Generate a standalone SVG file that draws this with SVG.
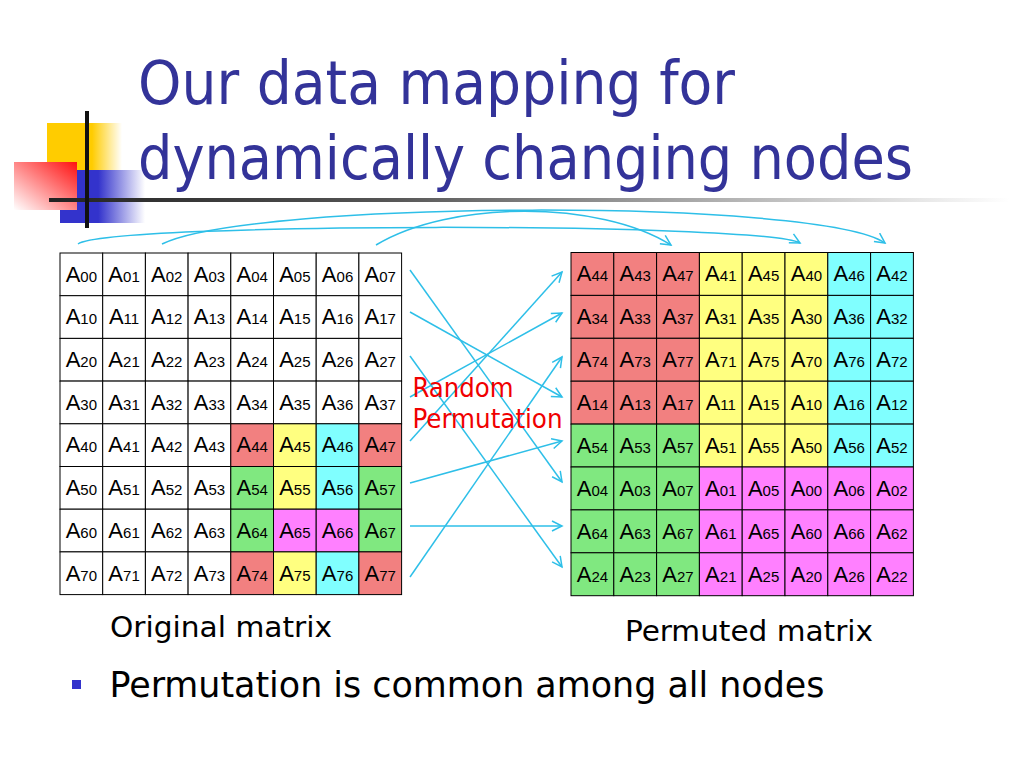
<svg xmlns="http://www.w3.org/2000/svg" width="1024" height="768" viewBox="0 0 1024 768">
<defs>
<style>
.c rect{stroke:#000;stroke-width:1}
.c text{font-family:"Liberation Sans",Arial,sans-serif;font-size:22px;fill:#000;text-anchor:middle}
.c tspan{font-size:15px}
.w{fill:#fff}.r{fill:#F28080}.y{fill:#FFFF80}.b{fill:#80FFFF}.g{fill:#80E880}.m{fill:#FF80FF}
.t{font-family:"DejaVu Sans Condensed","DejaVu Sans",Tahoma,sans-serif;font-stretch:condensed}
.conn path{fill:none;stroke:#2EBFE8;stroke-width:1.5;marker-end:url(#ah)}
</style>
<marker id="ah" markerWidth="14" markerHeight="14" refX="11" refY="6" orient="auto" markerUnits="userSpaceOnUse">
<polyline points="1,1 11,6 1,11" fill="none" stroke="#2EBFE8" stroke-width="1.5"/>
</marker>
<linearGradient id="gy" x1="0" y1="0" x2="1" y2="0"><stop offset="0" stop-color="#FFCC00"/><stop offset="0.6" stop-color="#FFCC00"/><stop offset="1" stop-color="#FFCC00" stop-opacity="0"/></linearGradient>
<linearGradient id="gb" x1="0" y1="0" x2="1" y2="0"><stop offset="0" stop-color="#3333CC"/><stop offset="0.45" stop-color="#3333CC"/><stop offset="1" stop-color="#3333CC" stop-opacity="0"/></linearGradient>
<linearGradient id="gr" x1="1" y1="0" x2="0" y2="1"><stop offset="0" stop-color="#FF1010"/><stop offset="1" stop-color="#FFFFFF"/></linearGradient>
<linearGradient id="gl" x1="0" y1="0" x2="1" y2="0"><stop offset="0" stop-color="#222"/><stop offset="0.35" stop-color="#555"/><stop offset="1" stop-color="#fff"/></linearGradient>
</defs>
<rect width="1024" height="768" fill="#fff"/>
<g id="logo">
<rect x="47" y="123" width="75" height="47" fill="url(#gy)"/>
<rect x="60" y="170" width="85" height="53" fill="url(#gb)"/>
<rect x="14" y="162" width="63" height="48" fill="url(#gr)"/>
<rect x="49" y="198" width="960" height="4" fill="url(#gl)"/>
<rect x="85" y="111" width="4" height="117" fill="#111"/>
</g>
<g id="title" class="t" fill="#333399" font-size="60">
<text x="138" y="104" textLength="597" lengthAdjust="spacingAndGlyphs">Our data mapping for</text>
<text x="138" y="178.5" textLength="775" lengthAdjust="spacingAndGlyphs">dynamically changing nodes</text>
</g>
<g id="original" class="c">
<g id="L00" transform="translate(60,253)"><rect class="w" width="42.7" height="42.7"/><text x="21.35" y="28.7">A<tspan>00</tspan></text></g>
<g id="L01" transform="translate(102.7,253)"><rect class="w" width="42.7" height="42.7"/><text x="21.35" y="28.7">A<tspan>01</tspan></text></g>
<g id="L02" transform="translate(145.4,253)"><rect class="w" width="42.7" height="42.7"/><text x="21.35" y="28.7">A<tspan>02</tspan></text></g>
<g id="L03" transform="translate(188.1,253)"><rect class="w" width="42.7" height="42.7"/><text x="21.35" y="28.7">A<tspan>03</tspan></text></g>
<g id="L04" transform="translate(230.8,253)"><rect class="w" width="42.7" height="42.7"/><text x="21.35" y="28.7">A<tspan>04</tspan></text></g>
<g id="L05" transform="translate(273.5,253)"><rect class="w" width="42.7" height="42.7"/><text x="21.35" y="28.7">A<tspan>05</tspan></text></g>
<g id="L06" transform="translate(316.2,253)"><rect class="w" width="42.7" height="42.7"/><text x="21.35" y="28.7">A<tspan>06</tspan></text></g>
<g id="L07" transform="translate(358.9,253)"><rect class="w" width="42.7" height="42.7"/><text x="21.35" y="28.7">A<tspan>07</tspan></text></g>
<g id="L10" transform="translate(60,295.7)"><rect class="w" width="42.7" height="42.7"/><text x="21.35" y="28.7">A<tspan>10</tspan></text></g>
<g id="L11" transform="translate(102.7,295.7)"><rect class="w" width="42.7" height="42.7"/><text x="21.35" y="28.7">A<tspan>11</tspan></text></g>
<g id="L12" transform="translate(145.4,295.7)"><rect class="w" width="42.7" height="42.7"/><text x="21.35" y="28.7">A<tspan>12</tspan></text></g>
<g id="L13" transform="translate(188.1,295.7)"><rect class="w" width="42.7" height="42.7"/><text x="21.35" y="28.7">A<tspan>13</tspan></text></g>
<g id="L14" transform="translate(230.8,295.7)"><rect class="w" width="42.7" height="42.7"/><text x="21.35" y="28.7">A<tspan>14</tspan></text></g>
<g id="L15" transform="translate(273.5,295.7)"><rect class="w" width="42.7" height="42.7"/><text x="21.35" y="28.7">A<tspan>15</tspan></text></g>
<g id="L16" transform="translate(316.2,295.7)"><rect class="w" width="42.7" height="42.7"/><text x="21.35" y="28.7">A<tspan>16</tspan></text></g>
<g id="L17" transform="translate(358.9,295.7)"><rect class="w" width="42.7" height="42.7"/><text x="21.35" y="28.7">A<tspan>17</tspan></text></g>
<g id="L20" transform="translate(60,338.4)"><rect class="w" width="42.7" height="42.7"/><text x="21.35" y="28.7">A<tspan>20</tspan></text></g>
<g id="L21" transform="translate(102.7,338.4)"><rect class="w" width="42.7" height="42.7"/><text x="21.35" y="28.7">A<tspan>21</tspan></text></g>
<g id="L22" transform="translate(145.4,338.4)"><rect class="w" width="42.7" height="42.7"/><text x="21.35" y="28.7">A<tspan>22</tspan></text></g>
<g id="L23" transform="translate(188.1,338.4)"><rect class="w" width="42.7" height="42.7"/><text x="21.35" y="28.7">A<tspan>23</tspan></text></g>
<g id="L24" transform="translate(230.8,338.4)"><rect class="w" width="42.7" height="42.7"/><text x="21.35" y="28.7">A<tspan>24</tspan></text></g>
<g id="L25" transform="translate(273.5,338.4)"><rect class="w" width="42.7" height="42.7"/><text x="21.35" y="28.7">A<tspan>25</tspan></text></g>
<g id="L26" transform="translate(316.2,338.4)"><rect class="w" width="42.7" height="42.7"/><text x="21.35" y="28.7">A<tspan>26</tspan></text></g>
<g id="L27" transform="translate(358.9,338.4)"><rect class="w" width="42.7" height="42.7"/><text x="21.35" y="28.7">A<tspan>27</tspan></text></g>
<g id="L30" transform="translate(60,381.1)"><rect class="w" width="42.7" height="42.7"/><text x="21.35" y="28.7">A<tspan>30</tspan></text></g>
<g id="L31" transform="translate(102.7,381.1)"><rect class="w" width="42.7" height="42.7"/><text x="21.35" y="28.7">A<tspan>31</tspan></text></g>
<g id="L32" transform="translate(145.4,381.1)"><rect class="w" width="42.7" height="42.7"/><text x="21.35" y="28.7">A<tspan>32</tspan></text></g>
<g id="L33" transform="translate(188.1,381.1)"><rect class="w" width="42.7" height="42.7"/><text x="21.35" y="28.7">A<tspan>33</tspan></text></g>
<g id="L34" transform="translate(230.8,381.1)"><rect class="w" width="42.7" height="42.7"/><text x="21.35" y="28.7">A<tspan>34</tspan></text></g>
<g id="L35" transform="translate(273.5,381.1)"><rect class="w" width="42.7" height="42.7"/><text x="21.35" y="28.7">A<tspan>35</tspan></text></g>
<g id="L36" transform="translate(316.2,381.1)"><rect class="w" width="42.7" height="42.7"/><text x="21.35" y="28.7">A<tspan>36</tspan></text></g>
<g id="L37" transform="translate(358.9,381.1)"><rect class="w" width="42.7" height="42.7"/><text x="21.35" y="28.7">A<tspan>37</tspan></text></g>
<g id="L40" transform="translate(60,423.8)"><rect class="w" width="42.7" height="42.7"/><text x="21.35" y="28.7">A<tspan>40</tspan></text></g>
<g id="L41" transform="translate(102.7,423.8)"><rect class="w" width="42.7" height="42.7"/><text x="21.35" y="28.7">A<tspan>41</tspan></text></g>
<g id="L42" transform="translate(145.4,423.8)"><rect class="w" width="42.7" height="42.7"/><text x="21.35" y="28.7">A<tspan>42</tspan></text></g>
<g id="L43" transform="translate(188.1,423.8)"><rect class="w" width="42.7" height="42.7"/><text x="21.35" y="28.7">A<tspan>43</tspan></text></g>
<g id="L44" transform="translate(230.8,423.8)"><rect class="r" width="42.7" height="42.7"/><text x="21.35" y="28.7">A<tspan>44</tspan></text></g>
<g id="L45" transform="translate(273.5,423.8)"><rect class="y" width="42.7" height="42.7"/><text x="21.35" y="28.7">A<tspan>45</tspan></text></g>
<g id="L46" transform="translate(316.2,423.8)"><rect class="b" width="42.7" height="42.7"/><text x="21.35" y="28.7">A<tspan>46</tspan></text></g>
<g id="L47" transform="translate(358.9,423.8)"><rect class="r" width="42.7" height="42.7"/><text x="21.35" y="28.7">A<tspan>47</tspan></text></g>
<g id="L50" transform="translate(60,466.5)"><rect class="w" width="42.7" height="42.7"/><text x="21.35" y="28.7">A<tspan>50</tspan></text></g>
<g id="L51" transform="translate(102.7,466.5)"><rect class="w" width="42.7" height="42.7"/><text x="21.35" y="28.7">A<tspan>51</tspan></text></g>
<g id="L52" transform="translate(145.4,466.5)"><rect class="w" width="42.7" height="42.7"/><text x="21.35" y="28.7">A<tspan>52</tspan></text></g>
<g id="L53" transform="translate(188.1,466.5)"><rect class="w" width="42.7" height="42.7"/><text x="21.35" y="28.7">A<tspan>53</tspan></text></g>
<g id="L54" transform="translate(230.8,466.5)"><rect class="g" width="42.7" height="42.7"/><text x="21.35" y="28.7">A<tspan>54</tspan></text></g>
<g id="L55" transform="translate(273.5,466.5)"><rect class="y" width="42.7" height="42.7"/><text x="21.35" y="28.7">A<tspan>55</tspan></text></g>
<g id="L56" transform="translate(316.2,466.5)"><rect class="b" width="42.7" height="42.7"/><text x="21.35" y="28.7">A<tspan>56</tspan></text></g>
<g id="L57" transform="translate(358.9,466.5)"><rect class="g" width="42.7" height="42.7"/><text x="21.35" y="28.7">A<tspan>57</tspan></text></g>
<g id="L60" transform="translate(60,509.2)"><rect class="w" width="42.7" height="42.7"/><text x="21.35" y="28.7">A<tspan>60</tspan></text></g>
<g id="L61" transform="translate(102.7,509.2)"><rect class="w" width="42.7" height="42.7"/><text x="21.35" y="28.7">A<tspan>61</tspan></text></g>
<g id="L62" transform="translate(145.4,509.2)"><rect class="w" width="42.7" height="42.7"/><text x="21.35" y="28.7">A<tspan>62</tspan></text></g>
<g id="L63" transform="translate(188.1,509.2)"><rect class="w" width="42.7" height="42.7"/><text x="21.35" y="28.7">A<tspan>63</tspan></text></g>
<g id="L64" transform="translate(230.8,509.2)"><rect class="g" width="42.7" height="42.7"/><text x="21.35" y="28.7">A<tspan>64</tspan></text></g>
<g id="L65" transform="translate(273.5,509.2)"><rect class="m" width="42.7" height="42.7"/><text x="21.35" y="28.7">A<tspan>65</tspan></text></g>
<g id="L66" transform="translate(316.2,509.2)"><rect class="m" width="42.7" height="42.7"/><text x="21.35" y="28.7">A<tspan>66</tspan></text></g>
<g id="L67" transform="translate(358.9,509.2)"><rect class="g" width="42.7" height="42.7"/><text x="21.35" y="28.7">A<tspan>67</tspan></text></g>
<g id="L70" transform="translate(60,551.9)"><rect class="w" width="42.7" height="42.7"/><text x="21.35" y="28.7">A<tspan>70</tspan></text></g>
<g id="L71" transform="translate(102.7,551.9)"><rect class="w" width="42.7" height="42.7"/><text x="21.35" y="28.7">A<tspan>71</tspan></text></g>
<g id="L72" transform="translate(145.4,551.9)"><rect class="w" width="42.7" height="42.7"/><text x="21.35" y="28.7">A<tspan>72</tspan></text></g>
<g id="L73" transform="translate(188.1,551.9)"><rect class="w" width="42.7" height="42.7"/><text x="21.35" y="28.7">A<tspan>73</tspan></text></g>
<g id="L74" transform="translate(230.8,551.9)"><rect class="r" width="42.7" height="42.7"/><text x="21.35" y="28.7">A<tspan>74</tspan></text></g>
<g id="L75" transform="translate(273.5,551.9)"><rect class="y" width="42.7" height="42.7"/><text x="21.35" y="28.7">A<tspan>75</tspan></text></g>
<g id="L76" transform="translate(316.2,551.9)"><rect class="b" width="42.7" height="42.7"/><text x="21.35" y="28.7">A<tspan>76</tspan></text></g>
<g id="L77" transform="translate(358.9,551.9)"><rect class="r" width="42.7" height="42.7"/><text x="21.35" y="28.7">A<tspan>77</tspan></text></g>
</g>
<g id="permuted" class="c">
<g id="P00" transform="translate(571,252.5)"><rect class="r" width="42.8" height="42.9"/><text x="21.4" y="28.8">A<tspan>44</tspan></text></g>
<g id="P01" transform="translate(613.8,252.5)"><rect class="r" width="42.8" height="42.9"/><text x="21.4" y="28.8">A<tspan>43</tspan></text></g>
<g id="P02" transform="translate(656.6,252.5)"><rect class="r" width="42.8" height="42.9"/><text x="21.4" y="28.8">A<tspan>47</tspan></text></g>
<g id="P03" transform="translate(699.4,252.5)"><rect class="y" width="42.8" height="42.9"/><text x="21.4" y="28.8">A<tspan>41</tspan></text></g>
<g id="P04" transform="translate(742.2,252.5)"><rect class="y" width="42.8" height="42.9"/><text x="21.4" y="28.8">A<tspan>45</tspan></text></g>
<g id="P05" transform="translate(785,252.5)"><rect class="y" width="42.8" height="42.9"/><text x="21.4" y="28.8">A<tspan>40</tspan></text></g>
<g id="P06" transform="translate(827.8,252.5)"><rect class="b" width="42.8" height="42.9"/><text x="21.4" y="28.8">A<tspan>46</tspan></text></g>
<g id="P07" transform="translate(870.6,252.5)"><rect class="b" width="42.8" height="42.9"/><text x="21.4" y="28.8">A<tspan>42</tspan></text></g>
<g id="P10" transform="translate(571,295.4)"><rect class="r" width="42.8" height="42.9"/><text x="21.4" y="28.8">A<tspan>34</tspan></text></g>
<g id="P11" transform="translate(613.8,295.4)"><rect class="r" width="42.8" height="42.9"/><text x="21.4" y="28.8">A<tspan>33</tspan></text></g>
<g id="P12" transform="translate(656.6,295.4)"><rect class="r" width="42.8" height="42.9"/><text x="21.4" y="28.8">A<tspan>37</tspan></text></g>
<g id="P13" transform="translate(699.4,295.4)"><rect class="y" width="42.8" height="42.9"/><text x="21.4" y="28.8">A<tspan>31</tspan></text></g>
<g id="P14" transform="translate(742.2,295.4)"><rect class="y" width="42.8" height="42.9"/><text x="21.4" y="28.8">A<tspan>35</tspan></text></g>
<g id="P15" transform="translate(785,295.4)"><rect class="y" width="42.8" height="42.9"/><text x="21.4" y="28.8">A<tspan>30</tspan></text></g>
<g id="P16" transform="translate(827.8,295.4)"><rect class="b" width="42.8" height="42.9"/><text x="21.4" y="28.8">A<tspan>36</tspan></text></g>
<g id="P17" transform="translate(870.6,295.4)"><rect class="b" width="42.8" height="42.9"/><text x="21.4" y="28.8">A<tspan>32</tspan></text></g>
<g id="P20" transform="translate(571,338.3)"><rect class="r" width="42.8" height="42.9"/><text x="21.4" y="28.8">A<tspan>74</tspan></text></g>
<g id="P21" transform="translate(613.8,338.3)"><rect class="r" width="42.8" height="42.9"/><text x="21.4" y="28.8">A<tspan>73</tspan></text></g>
<g id="P22" transform="translate(656.6,338.3)"><rect class="r" width="42.8" height="42.9"/><text x="21.4" y="28.8">A<tspan>77</tspan></text></g>
<g id="P23" transform="translate(699.4,338.3)"><rect class="y" width="42.8" height="42.9"/><text x="21.4" y="28.8">A<tspan>71</tspan></text></g>
<g id="P24" transform="translate(742.2,338.3)"><rect class="y" width="42.8" height="42.9"/><text x="21.4" y="28.8">A<tspan>75</tspan></text></g>
<g id="P25" transform="translate(785,338.3)"><rect class="y" width="42.8" height="42.9"/><text x="21.4" y="28.8">A<tspan>70</tspan></text></g>
<g id="P26" transform="translate(827.8,338.3)"><rect class="b" width="42.8" height="42.9"/><text x="21.4" y="28.8">A<tspan>76</tspan></text></g>
<g id="P27" transform="translate(870.6,338.3)"><rect class="b" width="42.8" height="42.9"/><text x="21.4" y="28.8">A<tspan>72</tspan></text></g>
<g id="P30" transform="translate(571,381.2)"><rect class="r" width="42.8" height="42.9"/><text x="21.4" y="28.8">A<tspan>14</tspan></text></g>
<g id="P31" transform="translate(613.8,381.2)"><rect class="r" width="42.8" height="42.9"/><text x="21.4" y="28.8">A<tspan>13</tspan></text></g>
<g id="P32" transform="translate(656.6,381.2)"><rect class="r" width="42.8" height="42.9"/><text x="21.4" y="28.8">A<tspan>17</tspan></text></g>
<g id="P33" transform="translate(699.4,381.2)"><rect class="y" width="42.8" height="42.9"/><text x="21.4" y="28.8">A<tspan>11</tspan></text></g>
<g id="P34" transform="translate(742.2,381.2)"><rect class="y" width="42.8" height="42.9"/><text x="21.4" y="28.8">A<tspan>15</tspan></text></g>
<g id="P35" transform="translate(785,381.2)"><rect class="y" width="42.8" height="42.9"/><text x="21.4" y="28.8">A<tspan>10</tspan></text></g>
<g id="P36" transform="translate(827.8,381.2)"><rect class="b" width="42.8" height="42.9"/><text x="21.4" y="28.8">A<tspan>16</tspan></text></g>
<g id="P37" transform="translate(870.6,381.2)"><rect class="b" width="42.8" height="42.9"/><text x="21.4" y="28.8">A<tspan>12</tspan></text></g>
<g id="P40" transform="translate(571,424.1)"><rect class="g" width="42.8" height="42.9"/><text x="21.4" y="28.8">A<tspan>54</tspan></text></g>
<g id="P41" transform="translate(613.8,424.1)"><rect class="g" width="42.8" height="42.9"/><text x="21.4" y="28.8">A<tspan>53</tspan></text></g>
<g id="P42" transform="translate(656.6,424.1)"><rect class="g" width="42.8" height="42.9"/><text x="21.4" y="28.8">A<tspan>57</tspan></text></g>
<g id="P43" transform="translate(699.4,424.1)"><rect class="y" width="42.8" height="42.9"/><text x="21.4" y="28.8">A<tspan>51</tspan></text></g>
<g id="P44" transform="translate(742.2,424.1)"><rect class="y" width="42.8" height="42.9"/><text x="21.4" y="28.8">A<tspan>55</tspan></text></g>
<g id="P45" transform="translate(785,424.1)"><rect class="y" width="42.8" height="42.9"/><text x="21.4" y="28.8">A<tspan>50</tspan></text></g>
<g id="P46" transform="translate(827.8,424.1)"><rect class="b" width="42.8" height="42.9"/><text x="21.4" y="28.8">A<tspan>56</tspan></text></g>
<g id="P47" transform="translate(870.6,424.1)"><rect class="b" width="42.8" height="42.9"/><text x="21.4" y="28.8">A<tspan>52</tspan></text></g>
<g id="P50" transform="translate(571,467)"><rect class="g" width="42.8" height="42.9"/><text x="21.4" y="28.8">A<tspan>04</tspan></text></g>
<g id="P51" transform="translate(613.8,467)"><rect class="g" width="42.8" height="42.9"/><text x="21.4" y="28.8">A<tspan>03</tspan></text></g>
<g id="P52" transform="translate(656.6,467)"><rect class="g" width="42.8" height="42.9"/><text x="21.4" y="28.8">A<tspan>07</tspan></text></g>
<g id="P53" transform="translate(699.4,467)"><rect class="m" width="42.8" height="42.9"/><text x="21.4" y="28.8">A<tspan>01</tspan></text></g>
<g id="P54" transform="translate(742.2,467)"><rect class="m" width="42.8" height="42.9"/><text x="21.4" y="28.8">A<tspan>05</tspan></text></g>
<g id="P55" transform="translate(785,467)"><rect class="m" width="42.8" height="42.9"/><text x="21.4" y="28.8">A<tspan>00</tspan></text></g>
<g id="P56" transform="translate(827.8,467)"><rect class="m" width="42.8" height="42.9"/><text x="21.4" y="28.8">A<tspan>06</tspan></text></g>
<g id="P57" transform="translate(870.6,467)"><rect class="m" width="42.8" height="42.9"/><text x="21.4" y="28.8">A<tspan>02</tspan></text></g>
<g id="P60" transform="translate(571,509.9)"><rect class="g" width="42.8" height="42.9"/><text x="21.4" y="28.8">A<tspan>64</tspan></text></g>
<g id="P61" transform="translate(613.8,509.9)"><rect class="g" width="42.8" height="42.9"/><text x="21.4" y="28.8">A<tspan>63</tspan></text></g>
<g id="P62" transform="translate(656.6,509.9)"><rect class="g" width="42.8" height="42.9"/><text x="21.4" y="28.8">A<tspan>67</tspan></text></g>
<g id="P63" transform="translate(699.4,509.9)"><rect class="m" width="42.8" height="42.9"/><text x="21.4" y="28.8">A<tspan>61</tspan></text></g>
<g id="P64" transform="translate(742.2,509.9)"><rect class="m" width="42.8" height="42.9"/><text x="21.4" y="28.8">A<tspan>65</tspan></text></g>
<g id="P65" transform="translate(785,509.9)"><rect class="m" width="42.8" height="42.9"/><text x="21.4" y="28.8">A<tspan>60</tspan></text></g>
<g id="P66" transform="translate(827.8,509.9)"><rect class="m" width="42.8" height="42.9"/><text x="21.4" y="28.8">A<tspan>66</tspan></text></g>
<g id="P67" transform="translate(870.6,509.9)"><rect class="m" width="42.8" height="42.9"/><text x="21.4" y="28.8">A<tspan>62</tspan></text></g>
<g id="P70" transform="translate(571,552.8)"><rect class="g" width="42.8" height="42.9"/><text x="21.4" y="28.8">A<tspan>24</tspan></text></g>
<g id="P71" transform="translate(613.8,552.8)"><rect class="g" width="42.8" height="42.9"/><text x="21.4" y="28.8">A<tspan>23</tspan></text></g>
<g id="P72" transform="translate(656.6,552.8)"><rect class="g" width="42.8" height="42.9"/><text x="21.4" y="28.8">A<tspan>27</tspan></text></g>
<g id="P73" transform="translate(699.4,552.8)"><rect class="m" width="42.8" height="42.9"/><text x="21.4" y="28.8">A<tspan>21</tspan></text></g>
<g id="P74" transform="translate(742.2,552.8)"><rect class="m" width="42.8" height="42.9"/><text x="21.4" y="28.8">A<tspan>25</tspan></text></g>
<g id="P75" transform="translate(785,552.8)"><rect class="m" width="42.8" height="42.9"/><text x="21.4" y="28.8">A<tspan>20</tspan></text></g>
<g id="P76" transform="translate(827.8,552.8)"><rect class="m" width="42.8" height="42.9"/><text x="21.4" y="28.8">A<tspan>26</tspan></text></g>
<g id="P77" transform="translate(870.6,552.8)"><rect class="m" width="42.8" height="42.9"/><text x="21.4" y="28.8">A<tspan>22</tspan></text></g>
</g>
<g id="connectors" class="conn">
<path d="M78,244 C110,222 760,222 800,243"/>
<path d="M162,244 C250,200 820,198 885,243"/>
<path d="M376,245 C450,200 600,200 671,245"/>
<path d="M410,270 L562,482"/>
<path d="M410,312 L562,397"/>
<path d="M410,356 L562,567"/>
<path d="M410,397 L562,313"/>
<path d="M410,441 L562,272"/>
<path d="M410,483 L562,441"/>
<path d="M410,526 L562,526"/>
<path d="M410,577 L562,357"/>
</g>
<g id="perm-label" class="t" fill="#F00000" font-size="27">
<text x="412.5" y="397" textLength="101" lengthAdjust="spacingAndGlyphs">Random</text>
<text x="412.5" y="427.5" textLength="150" lengthAdjust="spacingAndGlyphs">Permutation</text>
</g>
<g id="captions" class="t" fill="#000">
<text x="110" y="637" font-size="29" textLength="222" lengthAdjust="spacingAndGlyphs">Original matrix</text>
<text x="625" y="641" font-size="29" textLength="248" lengthAdjust="spacingAndGlyphs">Permuted matrix</text>
</g>
<g id="bullet">
<rect x="72" y="680" width="9" height="9" fill="#3333CC"/>
<text class="t" x="109.5" y="697" font-size="35" fill="#000" textLength="715" lengthAdjust="spacingAndGlyphs">Permutation is common among all nodes</text>
</g>
</svg>
